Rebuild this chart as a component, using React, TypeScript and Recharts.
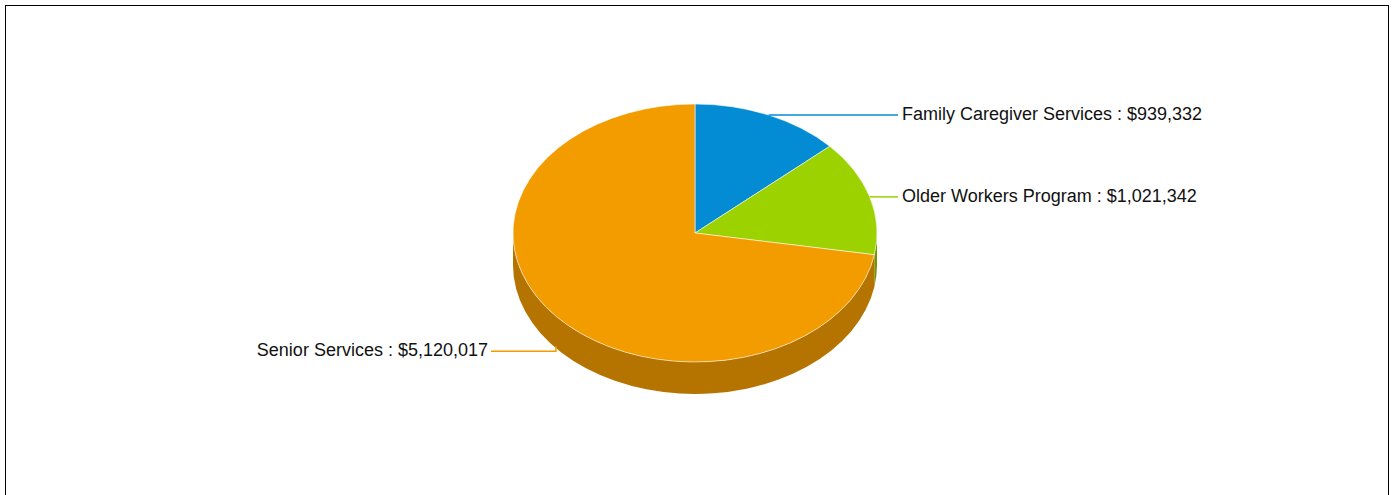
import { PieChart, Pie, Cell } from "recharts"

const CATEGORIES = ["Family Caregiver Services", "Older Workers Program", "Senior Services"]
const AMOUNTS = [939332, 1021342, 5120017]
const TOP_COLORS = ["#038cd4", "#9bd200", "#f29c00"]
const SIDE_COLORS = ["#02669c", "#6f9600", "#b57400"]

// squash factor of the tilted pie and height of its wall
const TILT = 129 / 182
const DEPTH = 32

const fmt = new Intl.NumberFormat("en-US", {
  style: "currency",
  currency: "USD",
  minimumFractionDigits: 0,
  maximumFractionDigits: 0,
})

const chartData = CATEGORIES.map((name, i) => ({
  name,
  value: AMOUNTS[i],
  side: SIDE_COLORS[i],
}))

function Slice3D(props: any) {
  const { cx, cy, outerRadius, startAngle, endAngle, fill } = props
  const side = props.side ?? props.payload?.side ?? "#888"
  const rx = outerRadius
  const ry = outerRadius * TILT
  const pt = (deg: number, dy = 0) => {
    const r = (deg * Math.PI) / 180
    return { x: cx + rx * Math.cos(r), y: cy - ry * Math.sin(r) + dy }
  }

  // front wall: parts of the slice in the lower half of the ellipse
  const lo = Math.min(startAngle, endAngle)
  const hi = Math.max(startAngle, endAngle)
  const walls: string[] = []
  for (let k = -2; k <= 1; k++) {
    const a = Math.max(lo, -180 + 360 * k)
    const b = Math.min(hi, 360 * k)
    if (b > a) {
      const p0 = pt(a)
      const p1 = pt(b)
      const q1 = pt(b, DEPTH)
      const q0 = pt(a, DEPTH)
      walls.push(
        `M${p0.x},${p0.y} A${rx},${ry} 0 0 0 ${p1.x},${p1.y} L${q1.x},${q1.y} A${rx},${ry} 0 0 1 ${q0.x},${q0.y} Z`
      )
    }
  }

  const s = pt(startAngle)
  const e = pt(endAngle)
  const large = Math.abs(startAngle - endAngle) > 180 ? 1 : 0
  const sweep = endAngle < startAngle ? 1 : 0
  const top = `M${cx},${cy} L${s.x},${s.y} A${rx},${ry} 0 ${large} ${sweep} ${e.x},${e.y} Z`

  return (
    <g>
      {walls.map((d, i) => (
        <path key={i} d={d} fill={side} stroke="none" />
      ))}
      <path d={top} fill={fill} stroke="#ffffff" strokeOpacity={0.7} strokeWidth={0.8} />
    </g>
  )
}

function renderLabel(props: any) {
  const { cx, cy, midAngle, outerRadius, index } = props
  const rad = (midAngle * Math.PI) / 180
  const ax = cx + outerRadius * Math.cos(rad)
  let ay = cy - outerRadius * TILT * Math.sin(rad)
  let ly = ay
  if (Math.sin(rad) < 0) {
    ay += DEPTH - 2
    ly = ay + 5
  }
  const right = Math.cos(rad) >= 0
  const ex = right ? cx + outerRadius + 21 : cx - outerRadius - 22
  const tx = right ? ex + 4 : ex - 3
  const color = TOP_COLORS[index]
  return (
    <g key={`label-${index}`}>
      <polyline
        points={`${ax},${ay} ${ax},${ly} ${ex},${ly}`}
        fill="none"
        stroke={color}
        strokeWidth={1.5}
      />
      <text
        x={tx}
        y={ly + 4.8}
        textAnchor={right ? "start" : "end"}
        fontSize={18}
        fontFamily="'Liberation Sans', Arial, sans-serif"
        fill="#111"
      >
        {`${CATEGORIES[index]} : ${fmt.format(AMOUNTS[index])}`}
      </text>
    </g>
  )
}

export default function App() {
  return (
    <div
      style={{
        position: "absolute",
        left: 5,
        top: 5,
        width: 1384,
        height: 500,
        border: "1px solid #000",
        boxSizing: "border-box",
        background: "#fff",
      }}
    >
      <PieChart width={1382} height={498} margin={{ top: 0, right: 0, bottom: 0, left: 0 }}>
        <Pie
          data={chartData}
          dataKey="value"
          nameKey="name"
          cx={689}
          cy={227}
          innerRadius={0}
          outerRadius={182}
          startAngle={90}
          endAngle={-270}
          stroke="none"
          shape={Slice3D}
          label={renderLabel}
          labelLine={false}
          isAnimationActive={false}
        >
          {chartData.map((d, i) => (
            <Cell key={d.name} fill={TOP_COLORS[i]} />
          ))}
        </Pie>
      </PieChart>
    </div>
  )
}
